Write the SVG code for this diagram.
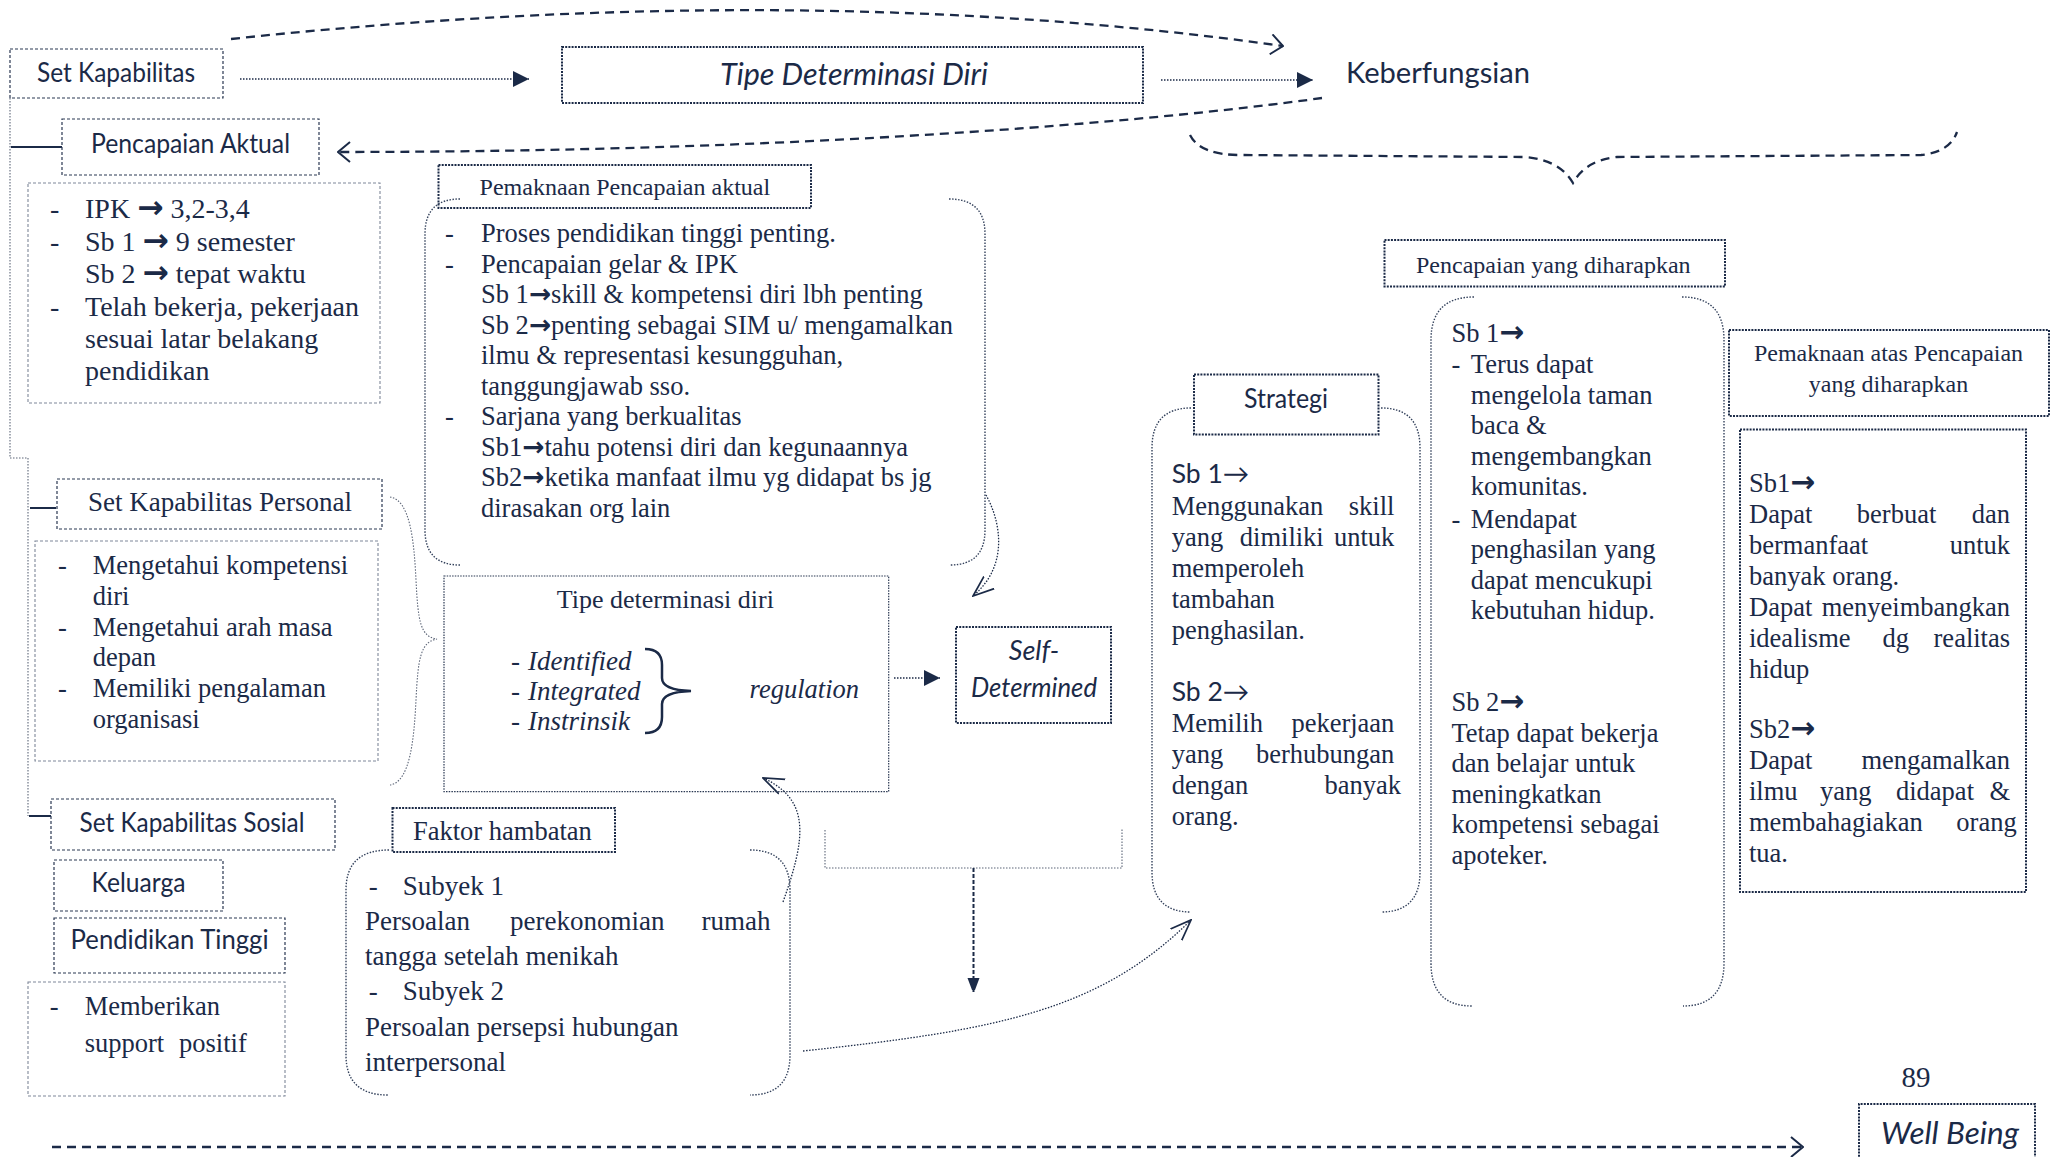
<svg xmlns="http://www.w3.org/2000/svg" width="2053" height="1157" viewBox="0 0 2053 1157">
<defs>
<style>
.s{font-family:"Liberation Serif","Times New Roman",serif;fill:#1b2a47}
.a{font-family:Lato,"Liberation Sans",sans-serif;fill:#1b2a47}
.ar{font-family:"DejaVu Sans",sans-serif;font-weight:bold;font-size:112%}
.ar2{font-family:"DejaVu Sans",sans-serif;font-weight:bold;font-size:100%}
.it{font-style:italic}
.f24{font-size:24px}.f26{font-size:26.5px}.f27{font-size:27px}.f28{font-size:28px}
.bt{fill:none;stroke:#2a3852;stroke-width:1.2;stroke-dasharray:3 2}
.bg{fill:none;stroke:#7f8899;stroke-width:1.1;stroke-dasharray:3 2}
.bd{fill:none;stroke:#1b2a47;stroke-width:2;stroke-dasharray:2 1.2}
.bf{fill:none;stroke:#2a3852;stroke-width:1.2;stroke-dasharray:1.5 1.2}
.brk{fill:none;stroke:#34425c;stroke-width:1.4;stroke-dasharray:1.5 1.5}
.dash{fill:none;stroke:#1b2a47;stroke-width:2.3;stroke-dasharray:9 6}
.dot{fill:none;stroke:#1b2a47;stroke-width:1.3;stroke-dasharray:1.5 1.5}
.dotg{fill:none;stroke:#5d6678;stroke-width:1.1;stroke-dasharray:1.5 1.5}
.solid{fill:none;stroke:#1b2a47;stroke-width:2}
.e{text-anchor:end}
.m{text-anchor:middle}
</style>
<marker id="chev" viewBox="0 0 14 22" refX="13" refY="11" markerWidth="14" markerHeight="22" markerUnits="userSpaceOnUse" orient="auto">
<path d="M1,1 L13,11 L1,21" fill="none" stroke="#1b2a47" stroke-width="2"/>
</marker>
<marker id="tri" viewBox="0 0 16 16" refX="16" refY="8" markerWidth="16" markerHeight="16" markerUnits="userSpaceOnUse" orient="auto">
<path d="M0,0 L16,8 L0,16z" fill="#1b2a47"/>
</marker>
<marker id="tri2" viewBox="0 0 12 16" refX="16" refY="6" markerWidth="12" markerHeight="16" markerUnits="userSpaceOnUse" orient="auto">
<path d="M0,0 L16,6 L0,12z" fill="#1b2a47"/>
</marker>
<marker id="vee" viewBox="0 0 22 18" refX="21" refY="9" markerWidth="22" markerHeight="18" markerUnits="userSpaceOnUse" orient="auto">
<path d="M0,1 L21,9 L0,17" fill="none" stroke="#1b2a47" stroke-width="1.7"/>
</marker>
</defs>
<rect width="2053" height="1157" fill="#ffffff"/>

<!-- connectors -->
<g id="connectors">
<path class="dash" d="M231,39 Q800,-22 1283,46" marker-end="url(#chev)"/>
<path class="dot" d="M240,79 H529" marker-end="url(#tri)"/>
<path class="dot" d="M1161,80 H1313" marker-end="url(#tri)"/>
<path class="dash" d="M1322,98 C1150,122 800,152 338,152" marker-end="url(#chev)"/>
<path class="dash" d="M1190,135 Q1200,155 1240,155 L1525,157 Q1560,160 1573,183 Q1586,160 1617,157 L1921,155 Q1950,152 1957,132"/>
<path class="dotg" d="M10,98 V458 H28 V816"/>
<path class="solid" d="M11,147 H62 M30,508 H56 M29,816 H51"/>
<path class="dotg" d="M390,497 C410,500 414,540 416,580 C418,620 420,637 437,639 C420,642 418,660 416,700 C414,740 410,782 390,785"/>
<path class="dot" d="M986,495 C1000,520 1010,565 973,596" marker-end="url(#vee)"/>
<path class="dot" d="M894,678 H940" marker-end="url(#tri)"/>
<path class="dotg" d="M825,830 V868 H1122 V829"/>
<path fill="none" stroke="#1b2a47" stroke-width="2" stroke-dasharray="4 2" d="M973.5,868 V994" marker-end="url(#tri2)"/>
<path class="dot" d="M783,902 C805,840 812,800 763,778" marker-end="url(#vee)"/>
<path class="dot" d="M803,1051 C1000,1030 1100,1010 1191,920" marker-end="url(#vee)"/>
<path class="dash" d="M52,1147 H1803" marker-end="url(#chev)"/>
</g>

<!-- top row -->
<g id="set-kapabilitas">
<rect class="bt" x="10" y="49" width="213" height="49"/>
<text class="a f27" x="37" y="82" textLength="158" lengthAdjust="spacingAndGlyphs">Set Kapabilitas</text>
</g>
<g id="tipe-determinasi">
<rect class="bd" x="562" y="47" width="581" height="56"/>
<text class="a it" font-size="30" x="720" y="85" textLength="268" lengthAdjust="spacingAndGlyphs">Tipe Determinasi Diri</text>
</g>
<g id="keberfungsian">
<text class="a" font-size="29" x="1346" y="83" textLength="184" lengthAdjust="spacingAndGlyphs">Keberfungsian</text>
</g>

<!-- left column -->
<g id="pencapaian-aktual">
<rect class="bt" x="62" y="119" width="257" height="56"/>
<text class="a f27" x="91" y="153" textLength="199" lengthAdjust="spacingAndGlyphs">Pencapaian Aktual</text>
</g>
<g id="pencapaian-aktual-isi">
<rect class="bg" x="28" y="183" width="352" height="220"/>
<text class="s f28"><tspan x="50" y="218">-</tspan><tspan x="50" y="251">-</tspan><tspan x="50" y="316">-</tspan></text>
<text class="s f28">
<tspan x="85" y="218">IPK </tspan><tspan class="ar">→</tspan><tspan> 3,2-3,4</tspan>
<tspan x="85" y="251">Sb 1 </tspan><tspan class="ar">→</tspan><tspan> 9 semester</tspan>
<tspan x="85" y="283">Sb 2 </tspan><tspan class="ar">→</tspan><tspan> tepat waktu</tspan>
<tspan x="85" y="316">Telah bekerja, pekerjaan</tspan>
<tspan x="85" y="348">sesuai latar belakang</tspan>
<tspan x="85" y="380">pendidikan</tspan>
</text>
</g>

<g id="kapabilitas-personal">
<rect class="bt" x="57" y="479" width="325" height="50"/>
<text class="s f27" x="88" y="511">Set Kapabilitas Personal</text>
</g>
<g id="kapabilitas-personal-isi">
<rect class="bg" x="35" y="541" width="343" height="220"/>
<text class="s f26"><tspan x="58" y="574">-</tspan><tspan x="58" y="635.6">-</tspan><tspan x="58" y="697.2">-</tspan></text>
<text class="s f26">
<tspan x="92.7" y="574">Mengetahui kompetensi</tspan>
<tspan x="92.7" y="604.8">diri</tspan>
<tspan x="92.7" y="635.6">Mengetahui arah masa</tspan>
<tspan x="92.7" y="666.4">depan</tspan>
<tspan x="92.7" y="697.2">Memiliki pengalaman</tspan>
<tspan x="92.7" y="728">organisasi</tspan>
</text>
</g>

<g id="kapabilitas-sosial">
<rect class="bt" x="51" y="799" width="284" height="51"/>
<text class="a f27" x="79.5" y="832" textLength="225" lengthAdjust="spacingAndGlyphs">Set Kapabilitas Sosial</text>
</g>
<g id="keluarga">
<rect class="bt" x="54" y="860" width="169" height="51"/>
<text class="a f27" x="91.5" y="892" textLength="94" lengthAdjust="spacingAndGlyphs">Keluarga</text>
</g>
<g id="pendidikan-tinggi">
<rect class="bt" x="54" y="918" width="231" height="55"/>
<text class="a f27" x="70.6" y="948.5" textLength="198" lengthAdjust="spacingAndGlyphs">Pendidikan Tinggi</text>
</g>
<g id="dukungan">
<rect class="bg" x="28" y="982" width="257" height="114"/>
<text class="s f26" x="49.7" y="1015">-</text>
<text class="s f26"><tspan x="84.7" y="1015">Memberikan</tspan><tspan x="84.7" y="1052">support</tspan><tspan x="179" y="1052">positif</tspan></text>
</g>

<!-- middle column -->
<g id="pemaknaan-aktual">
<rect class="bd" x="438.5" y="165" width="372.5" height="43"/>
<text class="s f24" x="479.6" y="195">Pemaknaan Pencapaian aktual</text>
</g>
<g id="pemaknaan-aktual-isi">
<path class="brk" d="M460,199 Q425,199 425,234 L425,530 Q425,565 460,565 M949,199 Q985,199 985,234 L985,530 Q985,565 950,565"/>
<text class="s f26"><tspan x="445" y="242">-</tspan><tspan x="445" y="272.5">-</tspan><tspan x="445" y="425">-</tspan></text>
<text class="s f26">
<tspan x="481" y="242">Proses pendidikan tinggi penting.</tspan>
<tspan x="481" y="272.5">Pencapaian gelar &amp; IPK</tspan>
<tspan x="481" y="303">Sb 1</tspan><tspan class="ar2">→</tspan><tspan>skill &amp; kompetensi diri lbh penting</tspan>
<tspan x="481" y="333.5">Sb 2</tspan><tspan class="ar2">→</tspan><tspan>penting sebagai SIM u/ mengamalkan</tspan>
<tspan x="481" y="364">ilmu &amp; representasi kesungguhan,</tspan>
<tspan x="481" y="394.5">tanggungjawab sso.</tspan>
<tspan x="481" y="425">Sarjana yang berkualitas</tspan>
<tspan x="481" y="455.5">Sb1</tspan><tspan class="ar2">→</tspan><tspan>tahu potensi diri dan kegunaannya</tspan>
<tspan x="481" y="486">Sb2</tspan><tspan class="ar2">→</tspan><tspan>ketika manfaat ilmu yg didapat bs jg</tspan>
<tspan x="481" y="516.5">dirasakan org lain</tspan>
</text>
</g>

<g id="tipe-determinasi-diri">
<rect class="bf" x="444" y="576" width="444.7" height="215.7"/>
<text class="s" font-size="26" x="556.8" y="608">Tipe determinasi diri</text>
<text class="s f27"><tspan x="511" y="670">-</tspan><tspan x="511" y="700">-</tspan><tspan x="511" y="730">-</tspan></text>
<text class="s f27 it">
<tspan x="528" y="670">Identified</tspan>
<tspan x="528" y="700">Integrated</tspan>
<tspan x="528" y="730">Instrinsik</tspan>
</text>
<path fill="none" stroke="#1b2a47" stroke-width="2.5" d="M645,649 Q662,649 662,665 L662,678 Q662,690 691,691 Q662,692 662,704 L662,717 Q662,733 645,733"/>
<text class="s it" font-size="26.5" x="749.6" y="698">regulation</text>
</g>

<g id="self-determined">
<rect class="bd" x="956" y="627" width="155" height="96"/>
<text class="a it f27 m" x="1034" y="660">Self-</text>
<text class="a it f27" x="971" y="697" textLength="126" lengthAdjust="spacingAndGlyphs">Determined</text>
</g>

<g id="faktor-hambatan">
<rect class="bd" x="392.5" y="808" width="222.5" height="44"/>
<text class="s f26" x="413" y="840">Faktor hambatan</text>
</g>
<g id="faktor-hambatan-isi">
<path class="brk" d="M389,850 Q346,850 346,890 L346,1055 Q346,1095 388,1095 M750,850 Q790,850 790,890 L790,1055 Q790,1095 750,1095"/>
<text class="s f27"><tspan x="368.7" y="895">-</tspan><tspan x="368.7" y="1000">-</tspan></text>
<text class="s f27">
<tspan x="402.7" y="895">Subyek 1</tspan>
<tspan x="365" y="930">Persoalan</tspan><tspan x="510" y="930">perekonomian</tspan>
<tspan x="365" y="965">tangga setelah menikah</tspan>
<tspan x="402.7" y="1000">Subyek 2</tspan>
<tspan x="365" y="1035.5">Persoalan persepsi hubungan</tspan>
<tspan x="365" y="1071">interpersonal</tspan>
</text>
<text class="s f27 e" x="770.4" y="930">rumah</text>
</g>

<!-- right side -->
<g id="pencapaian-diharapkan">
<rect class="bd" x="1384.5" y="240" width="340.5" height="46.5"/>
<text class="s f24" x="1416" y="273">Pencapaian yang diharapkan</text>
</g>
<g id="pencapaian-diharapkan-isi">
<path class="brk" d="M1474,297 Q1431,297 1431,340 L1431,963 Q1431,1006 1472,1006 M1682,297 Q1724,297 1724,340 L1724,963 Q1724,1006 1683,1006"/>
<text class="s f26">
<tspan x="1451.4" y="341.5">Sb 1</tspan><tspan class="ar">→</tspan>
<tspan x="1451.4" y="373.3">-</tspan><tspan x="1470.8" y="373.3">Terus dapat</tspan>
<tspan x="1470.8" y="403.8">mengelola taman</tspan>
<tspan x="1470.8" y="434.3">baca &amp;</tspan>
<tspan x="1470.8" y="464.8">mengembangkan</tspan>
<tspan x="1470.8" y="495.3">komunitas.</tspan>
<tspan x="1451.4" y="527.8">-</tspan><tspan x="1470.8" y="527.8">Mendapat</tspan>
<tspan x="1470.8" y="558.3">penghasilan yang</tspan>
<tspan x="1470.8" y="588.8">dapat mencukupi</tspan>
<tspan x="1470.8" y="619.3">kebutuhan hidup.</tspan>
<tspan x="1451.4" y="711">Sb 2</tspan><tspan class="ar">→</tspan>
<tspan x="1451.4" y="741.5">Tetap dapat bekerja</tspan>
<tspan x="1451.4" y="772">dan belajar untuk</tspan>
<tspan x="1451.4" y="802.5">meningkatkan</tspan>
<tspan x="1451.4" y="833">kompetensi sebagai</tspan>
<tspan x="1451.4" y="863.5">apoteker.</tspan>
</text>
</g>

<g id="strategi">
<rect class="bd" x="1194" y="374.5" width="184.5" height="60"/>
<text class="a f27" x="1244" y="408" textLength="84" lengthAdjust="spacingAndGlyphs">Strategi</text>
</g>
<g id="strategi-isi">
<path class="brk" d="M1191,408 Q1152,408 1152,448 L1152,872 Q1152,912 1191,912 M1381,408 Q1420,408 1420,448 L1420,872 Q1420,912 1381,912"/>
<text class="a f26" x="1171.7" y="483">Sb 1→</text>
<text class="a f26" x="1171.7" y="701">Sb 2→</text>
<text class="s f26">
<tspan x="1171.7" y="515">Menggunakan</tspan>
<tspan x="1171.7" y="545.5">yang</tspan><tspan x="1239.8" y="545.5">dimiliki</tspan>
<tspan x="1171.7" y="576.5">memperoleh</tspan>
<tspan x="1171.7" y="607.5">tambahan</tspan>
<tspan x="1171.7" y="638.5">penghasilan.</tspan>
<tspan x="1171.7" y="732">Memilih</tspan>
<tspan x="1171.7" y="763">yang</tspan>
<tspan x="1171.7" y="794">dengan</tspan>
<tspan x="1171.7" y="825">orang.</tspan>
</text>
<text class="s f26 e">
<tspan x="1401" y="515">skill</tspan>
<tspan x="1401" y="545.5">untuk</tspan>
<tspan x="1401" y="732">pekerjaan</tspan>
<tspan x="1401" y="763">berhubungan</tspan>
<tspan x="1401" y="794">banyak</tspan>
</text>
</g>

<g id="pemaknaan-diharapkan">
<rect class="bd" x="1729" y="330" width="320" height="86"/>
<text class="s f24 m"><tspan x="1888.5" y="361">Pemaknaan atas Pencapaian</tspan><tspan x="1888.5" y="392">yang diharapkan</tspan></text>
</g>
<g id="pemaknaan-diharapkan-isi">
<rect class="bd" x="1740" y="429.5" width="286" height="462.5"/>
<text class="s f26">
<tspan x="1749" y="491.5">Sb1</tspan><tspan class="ar">→</tspan>
<tspan x="1749" y="522.5">Dapat</tspan><tspan x="1856.8" y="522.5">berbuat</tspan>
<tspan x="1749" y="553.5">bermanfaat</tspan>
<tspan x="1749" y="584.5">banyak orang.</tspan>
<tspan x="1749" y="615.5">Dapat</tspan>
<tspan x="1749" y="646.5">idealisme</tspan><tspan x="1882.4" y="646.5">dg</tspan>
<tspan x="1749" y="677.5">hidup</tspan>
<tspan x="1749" y="738">Sb2</tspan><tspan class="ar">→</tspan>
<tspan x="1749" y="769">Dapat</tspan>
<tspan x="1749" y="800">ilmu</tspan><tspan x="1820" y="800">yang</tspan><tspan x="1896" y="800">didapat</tspan>
<tspan x="1749" y="831">membahagiakan</tspan>
<tspan x="1749" y="862">tua.</tspan>
</text>
<text class="s f26 e">
<tspan x="2016.7" y="522.5">dan</tspan>
<tspan x="2016.7" y="553.5">untuk</tspan>
<tspan x="2016.7" y="615.5">menyeimbangkan</tspan>
<tspan x="2016.7" y="646.5">realitas</tspan>
<tspan x="2016.7" y="769">mengamalkan</tspan>
<tspan x="2016.7" y="800">&amp;</tspan>
<tspan x="2016.7" y="831">orang</tspan>
</text>
</g>

<g id="halaman">
<text class="s" font-size="29" x="1901.5" y="1087">89</text>
</g>
<g id="well-being">
<path class="bd" d="M1859,1160 V1104 H2035 V1160"/>
<text class="a it" font-size="30" x="1881" y="1143.5" textLength="138" lengthAdjust="spacingAndGlyphs">Well Being</text>
</g>
</svg>
